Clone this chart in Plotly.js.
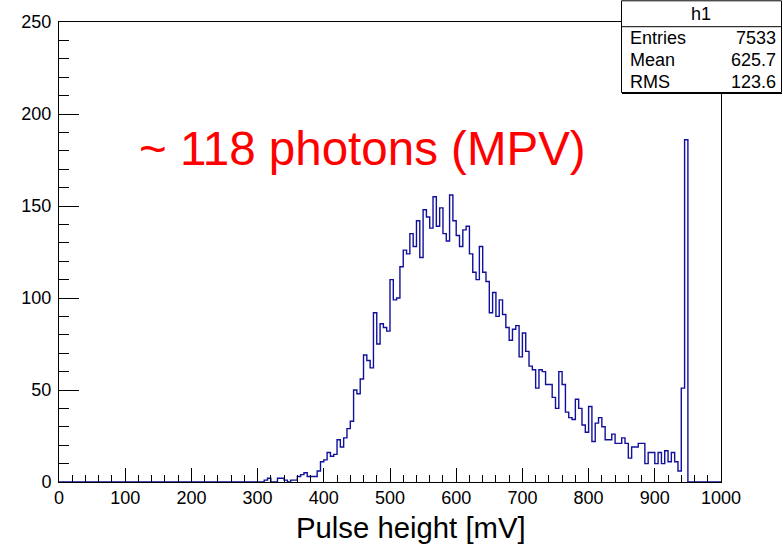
<!DOCTYPE html>
<html>
<head>
<meta charset="utf-8">
<script src="https://cdn.plot.ly/plotly-3.0.1.min.js"></script>
<style>
  html, body { margin: 0; padding: 0; background: #fff; }
  #chart { width: 783px; height: 545px; }
</style>
</head>
<body>
<div id="chart"></div>
<script>
// Histogram h1: 200 bins of 5 mV from 0 to 1000 mV
const binLow = 0;
const binWidth = 5;
const counts = [
  // 0 - 95
  0,0,0,0,0,0,0,0,0,0, 0,0,0,0,0,0,0,0,0,0,
  // 100 - 195
  0,0,0,0,0,0,0,0,0,0, 0,0,0,0,0,0,0,0,0,0,
  // 200 - 295
  0,0,0,0,0,0,0,0,0,0, 0,0,0,0,0,0,0,0,0,0,
  // 300 - 395
  0,0,1,2,0,0,2,2,1,0, 1,1,3,4,5,3,3,3,6,11,
  // 400 - 495
  12,16,14,15,23,19,24,29,33,50, 48,56,69,66,62,92,75,86,84,82,
  // 500 - 595
  110,99,100,117,126,124,135,128,142,122, 148,144,138,155,139,149,135,131,156,142,
  // 600 - 695
  134,128,137,139,124,114,110,128,114,109, 92,103,90,99,91,84,77,83,85,68,
  // 700 - 795
  81,71,63,61,51,61,60,53,53,46, 40,60,53,38,35,34,45,40,31,27,
  // 800 - 895
  41,22,32,35,30,23,23,26,21,21, 24,21,13,19,19,21,21,10,16,16,
  // 900 - 995
  10,16,10,17,11,16,11,6,51,186, 0,0,0,0,0,0,0,0,0,0
];
const xTitle = "Pulse height [mV]";
const noteText = "~ 118 photons (MPV)";
const statsName = "h1";
const statsLabels = ["Entries", "Mean", "RMS"];
const statsValues = ["7533", "625.7", "123.6"];

// step line through bin edges
const xs = [], ys = [];
for (let i = 0; i < counts.length; i++) { xs.push(binLow + i * binWidth); ys.push(counts[i]); }
xs.push(binLow + counts.length * binWidth); ys.push(counts[counts.length - 1]);

const FONT = "'Liberation Sans', Arial, Helvetica, sans-serif";

// plot area geometry (pixels)
const L = 59, R = 62, T = 22, B = 63;
const W = 783 - L - R, H = 545 - T - B;
const px = v => (v - L) / W;
const py = v => (545 - B - v) / H;

const trace = {
  x: xs, y: ys, type: 'scatter', mode: 'lines',
  line: { shape: 'hv', color: '#10109c', width: 1.4 },
  hoverinfo: 'skip', showlegend: false
};

const annotations = [
  { text: noteText, xref: 'paper', yref: 'paper', x: px(137), y: py(148),
    xanchor: 'left', yanchor: 'middle', showarrow: false,
    font: { family: FONT, size: 47.5, color: '#ff0000' } },
  { text: xTitle, xref: 'paper', yref: 'paper', x: px(411), y: py(527),
    xanchor: 'center', yanchor: 'middle', showarrow: false,
    font: { family: FONT, size: 29.3, color: '#000' } },
  { text: statsName, xref: 'paper', yref: 'paper', x: px(701), y: py(14),
    xanchor: 'center', yanchor: 'middle', showarrow: false,
    font: { family: FONT, size: 18, color: '#000' } }
];
const rowY = [38, 60, 82];
statsLabels.forEach((lab, i) => {
  annotations.push({ text: lab, xref: 'paper', yref: 'paper', x: px(628), y: py(rowY[i]),
    xanchor: 'left', yanchor: 'middle', showarrow: false,
    font: { family: FONT, size: 18, color: '#000' } });
  annotations.push({ text: statsValues[i], xref: 'paper', yref: 'paper', x: px(778), y: py(rowY[i]),
    xanchor: 'right', yanchor: 'middle', showarrow: false,
    font: { family: FONT, size: 18, color: '#000' } });
});

const shapes = [
  { type: 'rect', xref: 'paper', yref: 'paper', x0: px(621.5), x1: px(781.5), y0: py(92.5), y1: py(0.8),
    line: { color: '#000', width: 1 }, fillcolor: '#ffffff', layer: 'above' },
  { type: 'line', xref: 'paper', yref: 'paper', x0: px(621.5), x1: px(781.5), y0: py(26.7), y1: py(26.7),
    line: { color: '#000', width: 1 }, layer: 'above' },
  { type: 'line', xref: 'paper', yref: 'paper', x0: px(622), x1: px(782), y0: py(93.5), y1: py(93.5),
    line: { color: '#000', width: 1.2 }, layer: 'above' }
];

const layout = {
  width: 783, height: 545,
  margin: { l: L, r: R, t: T, b: B, pad: 0 },
  paper_bgcolor: '#fff', plot_bgcolor: '#fff',
  font: { family: FONT, size: 18, color: '#000' },
  showlegend: false,
  xaxis: {
    range: [0, 1000], tickmode: 'linear', tick0: 0, dtick: 100,
    ticks: 'inside', ticklen: 14, tickwidth: 1, tickcolor: '#000',
    minor: { dtick: 20, ticks: 'inside', ticklen: 7, tickwidth: 1, tickcolor: '#000', showgrid: false },
    showline: true, mirror: true, linecolor: '#000', linewidth: 1,
    showgrid: false, zeroline: false, fixedrange: true,
    tickfont: { family: FONT, size: 18, color: '#000' }, ticklabelstandoff: -1
  },
  yaxis: {
    range: [0, 250], tickmode: 'linear', tick0: 0, dtick: 50,
    ticks: 'inside', ticklen: 20, tickwidth: 1, tickcolor: '#000',
    minor: { dtick: 10, ticks: 'inside', ticklen: 10, tickwidth: 1, tickcolor: '#000', showgrid: false },
    showline: true, mirror: true, linecolor: '#000', linewidth: 1,
    showgrid: false, zeroline: false, fixedrange: true,
    tickfont: { family: FONT, size: 18, color: '#000' }, ticklabelstandoff: 3
  },
  annotations: annotations,
  shapes: shapes
};

Plotly.newPlot('chart', [trace], layout, { staticPlot: true, displayModeBar: false });
</script>
</body>
</html>
